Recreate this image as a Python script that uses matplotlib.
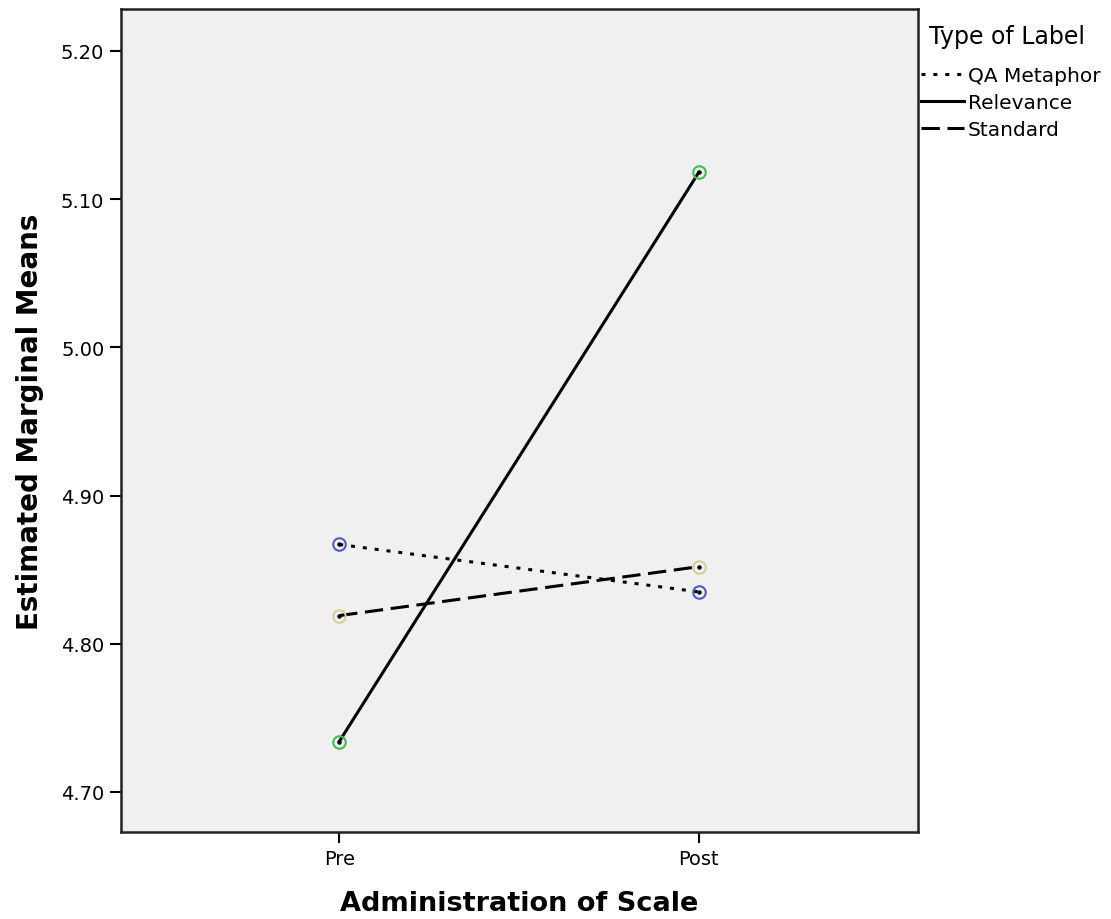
import matplotlib
matplotlib.use("Agg")
import matplotlib.pyplot as plt
from matplotlib.lines import Line2D

# estimated marginal means
admin = ["Pre", "Post"]
qa_metaphor = [4.867, 4.835]
relevance = [4.734, 5.118]
standard = [4.819, 4.852]

yticks = [4.70, 4.80, 4.90, 5.00, 5.10, 5.20]

plt.rcParams['font.family'] = ['DejaVu Sans']

fig = plt.figure(figsize=(11.11, 9.2), dpi=100)
ax = fig.add_axes([0.1089, 0.0946, 0.7174, 0.8945])
ax.set_facecolor('#f0f0f0')

x = list(range(len(admin)))
series = [
    ("QA Metaphor", qa_metaphor, (0, (1.3, 2.6)), '#4a5fc0'),
    ("Relevance", relevance, '-', '#3cbf4a'),
    ("Standard", standard, (0, (6, 2.5)), '#d6cf9c'),
]
for name, vals, ls, mc in series:
    ax.plot(x, vals, color='black', linestyle=ls, linewidth=2.2, zorder=2)
    ax.plot(x, vals, linestyle='none', marker='o', markersize=9,
            markerfacecolor='none', markeredgecolor=mc, markeredgewidth=1.5, zorder=3)
    ax.plot(x, vals, linestyle='none', marker='o', markersize=2.2,
            color='black', zorder=4)

ax.set_xlim(-0.607, 1.61)
ax.set_ylim(4.673, 5.2283)
ax.set_xticks(x)
ax.set_xticklabels(admin)
ax.set_yticks(yticks)
ax.set_yticklabels([f"{v:.2f}" for v in yticks])
ax.tick_params(direction='out', length=8, width=1.5, labelsize=14, colors='black', pad=4)
for s in ax.spines.values():
    s.set_linewidth(1.8)
    s.set_color('#222222')

ax.set_xlabel("Administration of Scale", fontsize=19.5, fontweight='bold', labelpad=16)
ax.set_ylabel("Estimated Marginal Means", fontsize=20, fontweight='bold', labelpad=12)

handles = [Line2D([0], [0], color='black', linestyle=ls, linewidth=2.2)
           for _, _, ls, _ in series]
leg = fig.legend(handles, [s[0] for s in series], title="Type of Label",
                 loc='upper left', bbox_to_anchor=(0.822, 0.982), frameon=False,
                 fontsize=14.5, title_fontsize=17, handlelength=2.1,
                 handletextpad=0.2, labelspacing=0.4, borderaxespad=0)
leg._legend_box.align = "left"
leg.get_title().set_position((8, 0))
leg._legend_box.sep = 13

fig.savefig("out.png", dpi=100)
